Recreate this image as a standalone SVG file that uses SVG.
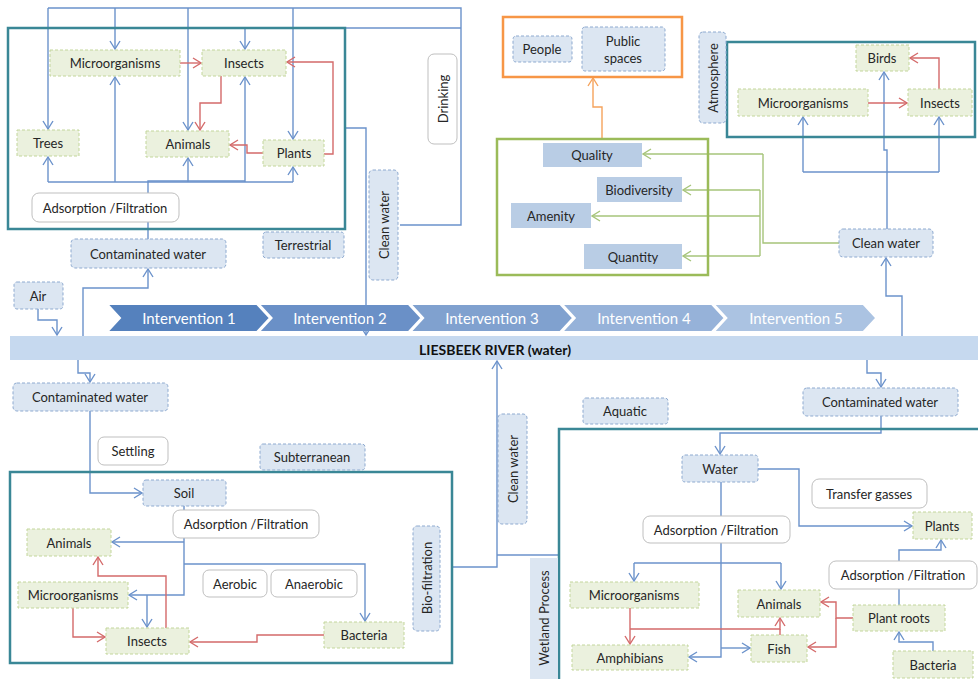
<svg xmlns="http://www.w3.org/2000/svg" width="978" height="679" viewBox="0 0 978 679">
  <style>
    .g { fill: #ebf1de; stroke: #c3d69b; stroke-width: 1; stroke-dasharray: 3 2; }
    .b { fill: #dce6f2; stroke: #8eaad0; stroke-width: 1; stroke-dasharray: 3 2; }
    .w { fill: #ffffff; stroke: #bfbfbf; stroke-width: 1; }
    .f { fill: #b9cde5; }
    .frame { fill: none; stroke: #3a8796; stroke-width: 2.5; }
    .t { font-family: Lato, "Open Sans", sans-serif; font-size: 13px; fill: #262626; text-anchor: middle; dominant-baseline: central; }
    .iv { font-family: Lato, "Open Sans", sans-serif; font-size: 15px; fill: #ffffff; text-anchor: middle; dominant-baseline: central; }
    .cb { fill: none; stroke: #6b92cb; stroke-width: 1.4; }
    .cr { fill: none; stroke: #d46a6a; stroke-width: 1.4; }
    .cg { fill: none; stroke: #a6c47a; stroke-width: 1.4; }
    .co { fill: none; stroke: #f5a35c; stroke-width: 1.4; }
    .ab { marker-end: url(#ab); }
    .ar { marker-end: url(#ar); }
    .ag { marker-end: url(#ag); }
    .ao { marker-end: url(#ao); }
  </style>
  <defs>
    <marker id="ab" markerUnits="userSpaceOnUse" markerWidth="12" markerHeight="12" refX="10" refY="6" orient="auto">
      <path d="M2,1 L10,6 L2,11" fill="none" stroke="#6b92cb" stroke-width="1.4"/>
    </marker>
    <marker id="ar" markerUnits="userSpaceOnUse" markerWidth="12" markerHeight="12" refX="10" refY="6" orient="auto">
      <path d="M2,1 L10,6 L2,11" fill="none" stroke="#d46a6a" stroke-width="1.4"/>
    </marker>
    <marker id="ag" markerUnits="userSpaceOnUse" markerWidth="12" markerHeight="12" refX="10" refY="6" orient="auto">
      <path d="M2,1 L10,6 L2,11" fill="none" stroke="#a6c47a" stroke-width="1.4"/>
    </marker>
    <marker id="ao" markerUnits="userSpaceOnUse" markerWidth="12" markerHeight="12" refX="10" refY="6" orient="auto">
      <path d="M2,1 L10,6 L2,11" fill="none" stroke="#f5a35c" stroke-width="1.4"/>
    </marker>
  </defs>

  <rect width="978" height="679" fill="#ffffff"/>

  <!-- river and interventions -->
  <g id="river">
    <rect x="10" y="336" width="968" height="24" fill="#c6d9ef"/>
    <text x="495" y="349" class="t" style="font-weight:bold;font-size:14px;fill:#111">LIESBEEK RIVER (water)</text>
  </g>
  <g id="interventions" stroke="#ffffff" stroke-width="2">
    <path d="M107,304 H257 L270,318 L257,332 H107 L120,318 Z" fill="#5581bd"/>
    <path d="M258.6,304 H408.6 L421.6,318 L408.6,332 H258.6 L271.6,318 Z" fill="#6a90c7"/>
    <path d="M410.2,304 H560.2 L573.2,318 L560.2,332 H410.2 L423.2,318 Z" fill="#80a1cf"/>
    <path d="M561.8,304 H711.8 L724.8,318 L711.8,332 H561.8 L574.8,318 Z" fill="#96b2d9"/>
    <path d="M713.4,304 H863.4 L876.4,318 L863.4,332 H713.4 L726.4,318 Z" fill="#abc3e2"/>
  </g>
  <g id="intervention-labels">
    <text x="189" y="318" class="iv">Intervention 1</text>
    <text x="340" y="318" class="iv">Intervention 2</text>
    <text x="492" y="318" class="iv">Intervention 3</text>
    <text x="644" y="318" class="iv">Intervention 4</text>
    <text x="796" y="318" class="iv">Intervention 5</text>
  </g>

  <!-- connectors -->
  <g id="connectors">
    <!-- terrestrial -->
    <path class="cb" d="M245,28 H461"/>
    <path class="cb" d="M48,8 H461 V225 H400"/>
    <path class="cb ab" d="M48,8 V129"/>
    <path class="cb ab" d="M115,8 V49"/>
    <path class="cb ab" d="M188,8 V130"/>
    <path class="cb ab" d="M293,8 V139"/>
    <path class="cb ab" d="M245,28 V49"/>
    <path class="cb" d="M48,182 H293"/>
    <path class="cb" d="M148,239 V181 H245"/>
    <path class="cb ab" d="M48,182 V157"/>
    <path class="cb ab" d="M115,182 V77"/>
    <path class="cb ab" d="M188,182 V158"/>
    <path class="cb ab" d="M245,182 V77"/>
    <path class="cb ab" d="M293,182 V167"/>
    <path class="cb ab" d="M345,128 H366 V335"/>
    <path class="cb ab" d="M83,336 V288 H148 V269"/>
    <path class="cb ab" d="M38,309 V320 H57 V335"/>
    <path class="cr ar" d="M180,63 H201"/>
    <path class="cr ar" d="M221,76 V103 H200 V130"/>
    <path class="cr ar" d="M324,154 H333 V62 H287"/>
    <path class="cr ar" d="M263,153 H247 V145 H230"/>

    <!-- atmosphere -->
    <path class="cb ab" d="M887,229 V150 H884 V72"/>
    <path class="cb" d="M803,172 H939"/>
    <path class="cb ab" d="M803,172 V117"/>
    <path class="cb ab" d="M939,172 V117"/>
    <path class="cb ab" d="M902,336 V296 H886 V258"/>
    <path class="cr ar" d="M868,103 H907"/>
    <path class="cr ar" d="M939,89 V58 H910"/>

    <!-- benefits -->
    <path class="cg" d="M839,243 H763 V154"/>
    <path class="cg" d="M760,190 V256"/>
    <path class="cg ag" d="M763,154 H643"/>
    <path class="cg ag" d="M760,190 H683"/>
    <path class="cg ag" d="M760,216 H592"/>
    <path class="cg ag" d="M760,256 H683"/>
    <path class="co ao" d="M602,139 V107 H593 V78"/>

    <!-- subterranean -->
    <path class="cb ab" d="M78,360 V373 H90 V382"/>
    <path class="cb ab" d="M90,411 V493 H142"/>
    <path class="cb ab" d="M184,506 V595 H129"/>
    <path class="cb ab" d="M184,542 H112"/>
    <path class="cb ab" d="M184,564 H365 V621"/>
    <path class="cb ab" d="M147,595 V627"/>
    <path class="cb ab" d="M452,567 H497 V361"/>
    <path class="cb" d="M497,555 H558"/>
    <path class="cr ar" d="M73,608 V637 H105"/>
    <path class="cr ar" d="M166,628 V576 H98 V557"/>
    <path class="cr ar" d="M324,635 H257 V642 H190"/>

    <!-- aquatic -->
    <path class="cb ab" d="M867,360 V373 H881 V387"/>
    <path class="cb ab" d="M881,416 V433 H720 V454"/>
    <path class="cb ab" d="M758,469 H799 V526 H912"/>
    <path class="cb ab" d="M721,482 V657 H689"/>
    <path class="cb ab" d="M721,648 H750"/>
    <path class="cb" d="M634,563 H781"/>
    <path class="cb ab" d="M634,563 V581"/>
    <path class="cb ab" d="M781,563 V589"/>
    <path class="cb ab" d="M899,605 V550 H941 V540"/>
    <path class="cb ab" d="M933,651 V642 H899 V632"/>
    <path class="cr ar" d="M630,608 V644"/>
    <path class="cr ar" d="M630,629 H780 V618"/>
    <path class="cr" d="M780,635 V629"/>
    <path class="cr ar" d="M853,618 H836 V602 H821"/>
    <path class="cr ar" d="M836,618 V647 H808"/>
  </g>

  <!-- frames -->
  <g id="frames">
    <rect class="frame" x="8" y="28" width="337" height="201"/>
    <rect class="frame" x="727" y="42" width="248" height="95"/>
    <rect x="497" y="139" width="211" height="136" fill="none" stroke="#9bbb59" stroke-width="2.5"/>
    <rect x="503" y="17" width="179" height="60" fill="none" stroke="#f79646" stroke-width="2.5"/>
    <rect class="frame" x="10" y="472" width="442" height="191"/>
    <rect class="frame" x="559" y="429" width="430" height="270"/>
  </g>

  <!-- terrestrial nodes -->
  <g id="t-micro"><rect class="g" x="50" y="50" width="130" height="26"/><text class="t" x="115" y="63">Microorganisms</text></g>
  <g id="t-insects"><rect class="g" x="202" y="50" width="84" height="26"/><text class="t" x="244" y="63">Insects</text></g>
  <g id="t-trees"><rect class="g" x="17" y="130" width="62" height="26"/><text class="t" x="48" y="143">Trees</text></g>
  <g id="t-animals"><rect class="g" x="146" y="131" width="83" height="26"/><text class="t" x="188" y="144">Animals</text></g>
  <g id="t-plants"><rect class="g" x="263" y="140" width="61" height="26"/><text class="t" x="294" y="153">Plants</text></g>
  <g id="t-adsorption"><rect class="w" x="32" y="193" width="147" height="29" rx="7"/><text class="t" x="105" y="208">Adsorption /Filtration</text></g>
  <g id="t-drinking"><rect class="w" x="428" y="54" width="29" height="90" rx="6"/><text class="t" transform="translate(443,99) rotate(-90)">Drinking</text></g>
  <g id="t-cleanwater"><rect class="b" x="369" y="170" width="29" height="110" rx="4"/><text class="t" transform="translate(384,225) rotate(-90)">Clean water</text></g>
  <g id="t-contaminated"><rect class="b" x="71" y="239" width="155" height="29" rx="4"/><text class="t" x="148" y="254">Contaminated water</text></g>
  <g id="terrestrial"><rect class="b" x="263" y="232" width="81" height="26" rx="3"/><text class="t" x="303" y="245">Terrestrial</text></g>
  <g id="air"><rect class="b" x="14" y="282" width="49" height="27" rx="3"/><text class="t" x="38" y="296">Air</text></g>

  <!-- benefit nodes -->
  <g id="people"><rect class="b" x="513" y="36" width="59" height="26" rx="3"/><text class="t" x="542" y="49">People</text></g>
  <g id="public-spaces"><rect class="b" x="582" y="27" width="83" height="44" rx="3"/><text class="t" x="623" y="41">Public</text><text class="t" x="623" y="58">spaces</text></g>
  <g id="quality"><rect class="f" x="543" y="143" width="99" height="24"/><text class="t" x="592" y="155">Quality</text></g>
  <g id="biodiversity"><rect class="f" x="597" y="177" width="85" height="25"/><text class="t" x="639" y="190">Biodiversity</text></g>
  <g id="amenity"><rect class="f" x="511" y="203" width="80" height="25"/><text class="t" x="551" y="216">Amenity</text></g>
  <g id="quantity"><rect class="f" x="584" y="244" width="98" height="25"/><text class="t" x="633" y="257">Quantity</text></g>

  <!-- atmosphere nodes -->
  <g id="atmosphere"><rect class="b" x="699" y="32" width="27" height="91" rx="4"/><text class="t" transform="translate(713,78) rotate(-90)">Atmosphere</text></g>
  <g id="a-birds"><rect class="g" x="856" y="45" width="53" height="26"/><text class="t" x="882" y="58">Birds</text></g>
  <g id="a-micro"><rect class="g" x="738" y="89" width="130" height="27"/><text class="t" x="803" y="103">Microorganisms</text></g>
  <g id="a-insects"><rect class="g" x="908" y="89" width="64" height="27"/><text class="t" x="940" y="103">Insects</text></g>
  <g id="a-cleanwater"><rect class="b" x="839" y="229" width="94" height="28" rx="4"/><text class="t" x="886" y="243">Clean water</text></g>

  <!-- subterranean nodes -->
  <g id="s-contaminated"><rect class="b" x="13" y="383" width="155" height="28" rx="4"/><text class="t" x="90" y="397">Contaminated water</text></g>
  <g id="s-settling"><rect class="w" x="98" y="437" width="70" height="28" rx="6"/><text class="t" x="133" y="451">Settling</text></g>
  <g id="subterranean"><rect class="b" x="260" y="444" width="105" height="26" rx="3"/><text class="t" x="312" y="457">Subterranean</text></g>
  <g id="s-soil"><rect class="b" x="143" y="480" width="83" height="26" rx="3"/><text class="t" x="184" y="493">Soil</text></g>
  <g id="s-adsorption"><rect class="w" x="173" y="510" width="146" height="28" rx="7"/><text class="t" x="246" y="524">Adsorption /Filtration</text></g>
  <g id="s-animals"><rect class="g" x="27" y="529" width="84" height="27"/><text class="t" x="69" y="543">Animals</text></g>
  <g id="s-aerobic"><rect class="w" x="203" y="570" width="64" height="27" rx="6"/><text class="t" x="235" y="584">Aerobic</text></g>
  <g id="s-anaerobic"><rect class="w" x="271" y="570" width="86" height="27" rx="6"/><text class="t" x="314" y="584">Anaerobic</text></g>
  <g id="s-micro"><rect class="g" x="18" y="582" width="110" height="26"/><text class="t" x="73" y="595">Microorganisms</text></g>
  <g id="s-insects"><rect class="g" x="106" y="628" width="83" height="26"/><text class="t" x="147" y="641">Insects</text></g>
  <g id="s-bacteria"><rect class="g" x="324" y="622" width="80" height="26"/><text class="t" x="364" y="635">Bacteria</text></g>
  <g id="s-biofiltration"><rect class="b" x="413" y="526" width="27" height="105" rx="4"/><text class="t" transform="translate(427,578) rotate(-90)">Bio-filtration</text></g>
  <g id="s-cleanwater"><rect class="b" x="498" y="414" width="29" height="110" rx="4"/><text class="t" transform="translate(513,469) rotate(-90)">Clean water</text></g>

  <!-- aquatic nodes -->
  <g id="aquatic"><rect class="b" x="583" y="398" width="85" height="26" rx="3"/><text class="t" x="625" y="411">Aquatic</text></g>
  <g id="w-contaminated"><rect class="b" x="803" y="388" width="155" height="28" rx="4"/><text class="t" x="880" y="402">Contaminated water</text></g>
  <g id="wetland-process"><rect x="530" y="558" width="28" height="125" fill="#dce6f2"/><text class="t" transform="translate(544,618) rotate(-90)">Wetland Process</text></g>
  <g id="w-water"><rect class="b" x="682" y="455" width="76" height="27" rx="3"/><text class="t" x="720" y="469">Water</text></g>
  <g id="w-transfer"><rect class="w" x="812" y="479" width="115" height="29" rx="7"/><text class="t" x="869" y="494">Transfer gasses</text></g>
  <g id="w-adsorption1"><rect class="w" x="643" y="516" width="147" height="27" rx="7"/><text class="t" x="716" y="530">Adsorption /Filtration</text></g>
  <g id="w-plants"><rect class="g" x="913" y="512" width="59" height="27"/><text class="t" x="942" y="526">Plants</text></g>
  <g id="w-adsorption2"><rect class="w" x="829" y="561" width="148" height="28" rx="7"/><text class="t" x="903" y="575">Adsorption /Filtration</text></g>
  <g id="w-micro"><rect class="g" x="570" y="582" width="129" height="26"/><text class="t" x="634" y="595">Microorganisms</text></g>
  <g id="w-animals"><rect class="g" x="738" y="590" width="82" height="27"/><text class="t" x="779" y="604">Animals</text></g>
  <g id="w-plantroots"><rect class="g" x="853" y="605" width="92" height="26"/><text class="t" x="899" y="618">Plant roots</text></g>
  <g id="w-fish"><rect class="g" x="751" y="635" width="56" height="27"/><text class="t" x="779" y="649">Fish</text></g>
  <g id="w-amphibians"><rect class="g" x="572" y="645" width="116" height="25"/><text class="t" x="630" y="658">Amphibians</text></g>
  <g id="w-bacteria"><rect class="g" x="893" y="651" width="80" height="27"/><text class="t" x="933" y="665">Bacteria</text></g>
</svg>
